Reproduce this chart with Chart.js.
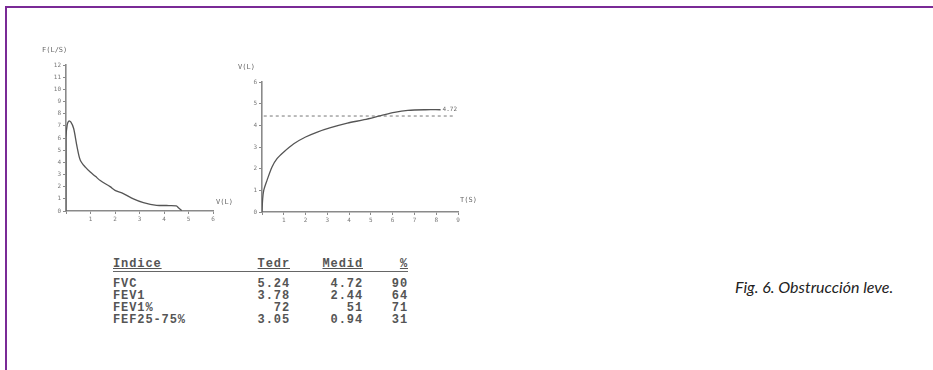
<!DOCTYPE html>
<html><head><meta charset="utf-8">
<script src="https://cdn.jsdelivr.net/npm/chart.js@4/dist/chart.umd.min.js"></script>
<style>
html,body{margin:0;padding:0;background:#fff;width:933px;height:370px;overflow:hidden;position:relative;}
#frameTop{position:absolute;left:5px;top:6px;width:928px;height:2px;background:#7a2a96;}
#frameLeft{position:absolute;left:5px;top:6px;width:2px;height:364px;background:#7a2a96;}
.cv{position:absolute;}
#c1{left:40px;top:40px;width:200px;height:190px;}
#c2{left:235px;top:55px;width:245px;height:170px;}
#tbl{position:absolute;left:113px;top:258px;font-family:"Liberation Mono",monospace;font-weight:bold;font-size:12px;color:#555;letter-spacing:0.9px;border-collapse:collapse;}
#tbl td,#tbl th{padding:0;line-height:12px;font-weight:bold;}
#tbl th{border-bottom:1.5px solid #666;padding-bottom:1px;text-decoration:underline;}
#tbl tr.first td{padding-top:6px;}
#caption{position:absolute;left:735px;top:277px;font-family:Lato,"Open Sans",sans-serif;font-style:italic;font-size:16px;color:#222;white-space:nowrap;}
</style></head><body>
<div id="frameTop"></div><div id="frameLeft"></div>
<canvas id="c1" class="cv" width="200" height="190"></canvas>
<canvas id="c2" class="cv" width="245" height="170"></canvas>
<table id="tbl"></table>
<div id="caption">Fig. 6. Obstrucción leve.</div>
<script>
// Flow-volume curve (V in L, F in L/s)
const fvVolume = [0, 0, 0.05, 0.12, 0.2, 0.31, 0.45, 0.58, 0.79, 0.99, 1.2, 1.4, 1.8, 2.0, 2.34, 2.75, 3.16, 3.7, 4.2, 4.5, 4.6, 4.72];
const fvFlow   = [0, 6.0, 7.1, 7.4, 7.3, 6.8, 5.3, 4.2, 3.6, 3.2, 2.85, 2.5, 2.0, 1.7, 1.43, 1.0, 0.69, 0.47, 0.45, 0.42, 0.25, 0.05];
// Volume-time curve (t in s, V in L)
const vtTime   = [0, 0.03, 0.08, 0.23, 0.46, 0.69, 1.0, 1.46, 2.0, 2.54, 3.15, 3.92, 4.69, 5.46, 6.08, 6.7, 7.5, 8.2];
const vtVolume = [0, 0.6, 1.0, 1.46, 2.08, 2.46, 2.77, 3.15, 3.46, 3.69, 3.89, 4.1, 4.26, 4.45, 4.6, 4.69, 4.72, 4.72];
const refLineTime = [0.08, 8.8];
const refLineVolume = 4.43;
const endLabel = "4.72";
// Table
const tblHeader = ["Indice", "Tedr", "Medid", "%"];
const tblIndex  = ["FVC", "FEV1", "FEV1%", "FEF25-75%"];
const tblTeor   = ["5.24", "3.78", "72", "3.05"];
const tblMedid  = ["4.72", "2.44", "51", "0.94"];
const tblPct    = ["90", "64", "71", "31"];

// build table
(function(){
  const t = document.getElementById('tbl');
  const widths = [130, 47, 73, 45];
  let h = '<tr>' + tblHeader.map((x,i)=>'<th style="width:'+widths[i]+'px;text-align:'+(i?'right':'left')+'">'+x+'</th>').join('') + '</tr>';
  for (let i=0;i<tblIndex.length;i++){
    h += '<tr'+(i===0?' class="first"':'')+'><td>'+tblIndex[i]+'</td><td style="text-align:right">'+tblTeor[i]+'</td><td style="text-align:right">'+tblMedid[i]+'</td><td style="text-align:right">'+tblPct[i]+'</td></tr>';
  }
  t.innerHTML = h;
})();

const axisColor = '#8a8a8a';
const tickFont = {family:'"DejaVu Sans Mono", monospace', size:6};

const titlesPlugin = {
  id:'titles',
  afterDraw(chart, args, opts){
    const ctx = chart.ctx, a = chart.chartArea;
    ctx.save();
    ctx.fillStyle = '#666';
    ctx.font = '7px "DejaVu Sans Mono", monospace';
    ctx.textBaseline = 'middle';
    if (opts.yTitle){ ctx.textAlign='left'; ctx.fillText(opts.yTitle, a.left + opts.yTitleDx, a.top + opts.yTitleDy); }
    if (opts.xTitle){ ctx.textAlign='left'; ctx.fillText(opts.xTitle, a.right + opts.xTitleDx, a.bottom + opts.xTitleDy); }
    if (opts.endLabel){
      ctx.font = '6px "DejaVu Sans Mono", monospace';
      const ds = chart.data.datasets[0].data; const p = ds[ds.length-1];
      const x = chart.scales.x.getPixelForValue(p.x), y = chart.scales.y.getPixelForValue(p.y);
      ctx.textAlign='left'; ctx.fillText(opts.endLabel, x+2, y);
    }
    ctx.restore();
  }
};

function axisOpts(min, max, hideZero, fitSize, isY){
  return {
    type:'linear', min:min, max:max,
    border:{color:axisColor, width:1.6},
    grid:{drawOnChartArea:false, drawTicks:true, tickLength:3, color:axisColor, lineWidth:1},
    ticks:{stepSize:1, color:'#777', font:tickFont, padding:2, maxRotation:0, autoSkip:false,
      callback:(v)=> (hideZero && v===0) ? '' : String(v)},
    afterFit:(s)=>{ if(isY) s.width = fitSize; else s.height = fitSize; }
  };
}

new Chart(document.getElementById('c1'), {
  type:'line',
  data:{datasets:[{data:fvVolume.map((v,i)=>({x:v,y:fvFlow[i]})), borderColor:'#555', borderWidth:1.3, pointRadius:0, tension:0.3, fill:false}]},
  options:{
    responsive:false, animation:false, maintainAspectRatio:false,
    layout:{padding:{top:25, left:0, right:27, bottom:7}},
    plugins:{legend:{display:false}, tooltip:{enabled:false},
      titles:{yTitle:'F(L/S)', yTitleDx:-24, yTitleDy:-15, xTitle:'V(L)', xTitleDx:3, xTitleDy:-9}},
    scales:{ x:axisOpts(0,6,true,12,false), y:axisOpts(0,12,false,26,true) }
  },
  plugins:[titlesPlugin]
});

new Chart(document.getElementById('c2'), {
  type:'line',
  data:{datasets:[
    {data:vtTime.map((t,i)=>({x:t,y:vtVolume[i]})), borderColor:'#555', borderWidth:1.3, pointRadius:0, tension:0.3, fill:false},
    {data:refLineTime.map(t=>({x:t,y:refLineVolume})), borderColor:'#777', borderWidth:1, borderDash:[3,3], pointRadius:0, fill:false}
  ]},
  options:{
    responsive:false, animation:false, maintainAspectRatio:false,
    layout:{padding:{top:27, left:0, right:22, bottom:1}},
    plugins:{legend:{display:false}, tooltip:{enabled:false},
      titles:{yTitle:'V(L)', yTitleDx:-24, yTitleDy:-15, xTitle:'T(S)', xTitleDx:2, xTitleDy:-12, endLabel:endLabel}},
    scales:{ x:axisOpts(0,9,true,12,false), y:axisOpts(0,6,false,27,true) }
  },
  plugins:[titlesPlugin]
});
</script>
</body></html>
